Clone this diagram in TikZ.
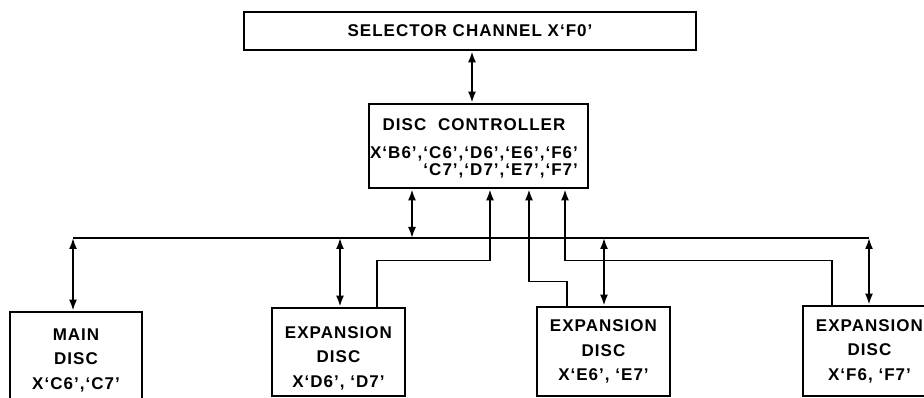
\documentclass[tikz,border=0pt]{standalone}
\usepackage{fontspec}
\usepackage{tikz}
\usetikzlibrary{arrows.meta}
\newfontfamily\diagfont[LetterSpace=6]{Liberation Sans}

\begin{document}
\begin{tikzpicture}[x=1pt,y=-1pt,
  box/.style={draw,line width=2.8pt,inner sep=0pt,align=center,
    font=\diagfont\bfseries\fontsize{17}{24.5}\selectfont},
  twoway/.style={line width=1.8pt,{Latex[length=11pt,width=8pt]}-{Latex[length=11pt,width=8pt]}},
  oneway/.style={line width=1.8pt,-{Latex[length=11pt,width=8pt]}},
  busline/.style={line width=1.8pt}]
\clip (0,0) rectangle (924,398);
\node[box,minimum width=452pt,minimum height=38pt] (sel) at (470,31) {SELECTOR CHANNEL X‘F0’};
\node[box,minimum width=219pt,minimum height=84pt] (ctrl) at (478.5,146)
  {\fontsize{17}{16}\selectfont\begin{tabular}{@{}r@{}}\multicolumn{1}{@{}c@{}}{\rule{0pt}{19pt}DISC\hspace{6pt} CONTROLLER}\\[11pt]
   X‘B6’,‘C6’,‘D6’,‘E6’,‘F6’\\ ‘C7’,‘D7’,‘E7’,‘F7’\end{tabular}\hspace{9pt}};
\node[box,minimum width=132pt,minimum height=96pt] (main) at (76,360) {MAIN\\DISC\\X‘C6’,‘C7’};
\node[box,minimum width=133pt,minimum height=88pt] (dD) at (338.5,352) {\rule{0pt}{24pt}EXPANSION\\DISC\\X‘D6’, ‘D7’};
\node[box,minimum width=133pt,minimum height=89pt] (dE) at (603.5,351.5) {EXPANSION\\DISC\\X‘E6’, ‘E7’};
\node[box,minimum width=133pt,minimum height=90pt] (dF) at (869.5,351) {EXPANSION\\DISC\\X‘F6, ‘F7’};
% common bus
\coordinate (busW) at (73,238);
\coordinate (busE) at (869,238);
\coordinate (tapC) at (412,238);
\coordinate (tapD) at (340,238);
\coordinate (tapE) at (604,238);
\draw[busline] (busW) -- (busE);
\draw[twoway] (sel.south -| 472,0) -- (ctrl.north -| 472,0);
\draw[twoway] (ctrl.south -| tapC) -- (tapC);
\draw[twoway] (busW) -- (busW |- main.north);
\draw[twoway] (tapD) -- (tapD |- dD.north);
\draw[twoway] (tapE) -- (tapE |- dE.north);
\draw[twoway] (busE) -- (busE |- dF.north);
% select lines
\draw[oneway] ([xshift=38.5pt]dD.north) -- ++(0,-46) -| ([xshift=11.5pt]ctrl.south);
\draw[oneway] ([xshift=-36.5pt]dE.north) -- ++(0,-24) -| ([xshift=50.5pt]ctrl.south);
\draw[oneway] ([xshift=-37.5pt]dF.north) -- ++(0,-44) -| ([xshift=86.5pt]ctrl.south);
\end{tikzpicture}
\end{document}
